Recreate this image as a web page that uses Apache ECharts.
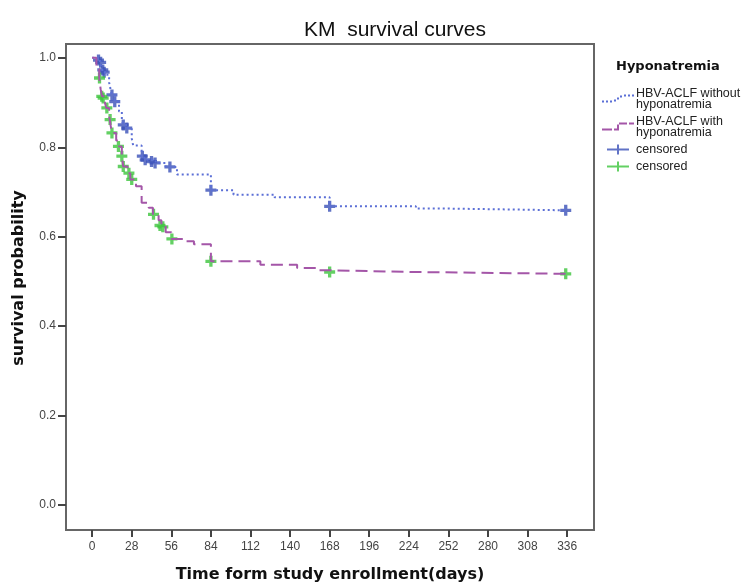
<!DOCTYPE html>
<html>
<head>
<meta charset="utf-8">
<script src="https://cdn.jsdelivr.net/npm/echarts@6/dist/echarts.min.js"></script>
<style>
  html, body { margin: 0; padding: 0; background: #fff; }
  #main { width: 753px; height: 588px; }
</style>
</head>
<body>
<div id="main"></div>
<script>
// step points [day, survival]
var withoutHypo = [
  [0, 1.0], [4, 0.993], [6, 0.985], [7, 0.973], [9, 0.962], [12, 0.945], [13, 0.93],
  [14, 0.917], [16, 0.902], [19, 0.88], [21, 0.862], [22, 0.85], [25, 0.843], [28, 0.82],
  [29, 0.804], [35, 0.78], [37, 0.772], [45, 0.765], [52, 0.756], [60, 0.739], [84, 0.704],
  [100, 0.694], [129, 0.688], [168, 0.668], [229, 0.663], [250, 0.659], [336, 0.659]
];
var withHypo = [
  [0, 1.0], [3, 0.975], [5, 0.955], [6, 0.93], [7, 0.914], [9, 0.9], [10, 0.888],
  [12, 0.87], [13, 0.85], [14, 0.832], [17, 0.815], [19, 0.802], [21, 0.78], [22, 0.757],
  [25, 0.742], [27, 0.728], [31, 0.713], [35, 0.676], [40, 0.665], [43, 0.65], [47, 0.637],
  [49, 0.624], [52, 0.61], [56, 0.595], [65, 0.59], [72, 0.583], [84, 0.545], [119, 0.537],
  [145, 0.53], [159, 0.525], [168, 0.521], [229, 0.517], [336, 0.517]
];
// censored marks
var censoredWithout = [
  [4.5, 0.995], [6, 0.99], [7.5, 0.973], [8.5, 0.968], [14, 0.917], [16, 0.902],
  [22, 0.85], [24.5, 0.843], [35.5, 0.78], [37.5, 0.772], [42, 0.768], [44.5, 0.765],
  [55, 0.756], [84, 0.704], [168, 0.668], [335, 0.659]
];
var censoredWith = [
  [5.2, 0.955], [6.8, 0.914], [7.8, 0.91], [10.4, 0.888], [12.7, 0.862], [14, 0.832],
  [18.6, 0.802], [21, 0.78], [22, 0.757], [26, 0.742], [28, 0.728], [43.4, 0.65],
  [48, 0.625], [50, 0.622], [56.4, 0.595], [84, 0.545], [168, 0.521], [335, 0.517]
];
var xTicks = [0, 28, 56, 84, 112, 140, 168, 196, 224, 252, 280, 308, 336];
var yTicks = [0, 0.2, 0.4, 0.6, 0.8, 1.0];

var plus = 'path://M3.5,0h3v3.5h3.5v3h-3.5v3.5h-3v-3.5h-3.5v-3h3.5z';
// legend icons
var dotStep = 'path://M0,7h2v2h-2z M4,7h2v2h-2z M8,7h2v2h-2z M12,6h2v2h-2z M15,4h2v2h-2z M18,2h2v2h-2z M22,1h2v2h-2z M26,1h2v2h-2z M30,1h2v2h-2z M0,10h0.1v0h-0.1z';
var dashStep = 'path://M0,7h10v2h-10z M12,7h3v2h-3z M15,3h2v6h-2z M17,1h8v2h-8z M27,1h5v2h-5z M0,10h0.1v0h-0.1z';
var plusIcon = 'path://M0,4h22v2h-22z M10,0h2v10h-2z';

var font = 'Liberation Sans, Arial, sans-serif';
var boldFont = 'DejaVu Sans, Verdana, sans-serif';

var chart = echarts.init(document.getElementById('main'));
chart.setOption({
  animation: false,
  backgroundColor: '#fff',
  textStyle: { fontFamily: font },
  title: [{
    text: 'KM  survival curves',
    left: 390, top: 15, textAlign: 'center',
    textStyle: { fontSize: 21, fontWeight: 'normal', color: '#111', fontFamily: font }
  }, {
    text: 'Hyponatremia',
    left: 611, top: 55,
    textStyle: { fontSize: 13, fontWeight: 'bold', color: '#111', fontFamily: boldFont }
  }],
  legend: {
    orient: 'vertical',
    left: 597, top: 82,
    itemWidth: 32, itemHeight: 10, itemGap: 4,
    selectedMode: false,
    textStyle: { fontSize: 12.5, lineHeight: 11, color: '#222', fontFamily: font, padding: [0, 0, 0, -3] },
    data: [
      { name: 'HBV-ACLF without\nhyponatremia', icon: dotStep, itemStyle: { color: '#5b6fd6' } },
      { name: 'HBV-ACLF with\nhyponatremia', icon: dashStep, itemStyle: { color: '#a456a8' } },
      { name: 'censored', icon: plusIcon, itemStyle: { color: '#3a50b8' } },
      { name: 'censored ', icon: plusIcon, itemStyle: { color: '#3cc43c' } }
    ]
  },
  grid: {
    left: 66, right: 159, top: 44, bottom: 57,
    show: true, borderColor: '#666', borderWidth: 2, backgroundColor: 'transparent'
  },
  xAxis: {
    type: 'value', min: -18.5, max: 355,
    name: 'Time form study enrollment(days)', nameLocation: 'middle', nameGap: 37,
    nameTextStyle: { fontSize: 16, fontWeight: 'bold', color: '#111', fontFamily: boldFont },
    axisLine: { show: true, onZero: false, lineStyle: { color: '#666', width: 2 } },
    axisTick: { show: true, customValues: xTicks, length: 7, lineStyle: { color: '#444', width: 2 } },
    axisLabel: { customValues: xTicks, fontSize: 12, color: '#444', margin: 11 },
    splitLine: { show: false }
  },
  yAxis: {
    type: 'value', min: -0.056, max: 1.031,
    name: 'survival probability', nameLocation: 'middle', nameGap: 39, nameRotate: 90,
    nameTextStyle: { fontSize: 16, fontWeight: 'bold', color: '#111', fontFamily: boldFont, padding: [0, 0, 0, 18] },
    axisLine: { show: true, onZero: false, lineStyle: { color: '#666', width: 2 } },
    axisTick: { show: true, customValues: yTicks, length: 8, lineStyle: { color: '#444', width: 2 } },
    axisLabel: {
      customValues: yTicks, fontSize: 12, color: '#444', margin: 10,
      formatter: function (v) { return v.toFixed(1); }
    },
    splitLine: { show: false }
  },
  series: [{
    name: 'HBV-ACLF without\nhyponatremia',
    type: 'line', step: 'end', symbol: 'none',
    data: withoutHypo,
    lineStyle: { color: '#5b6fd6', width: 2, type: [2, 3] },
    itemStyle: { color: '#5b6fd6' }
  }, {
    name: 'HBV-ACLF with\nhyponatremia',
    type: 'line', step: 'end', symbol: 'none',
    data: withHypo,
    lineStyle: { color: '#a456a8', width: 2, type: [12, 6] },
    itemStyle: { color: '#a456a8' }
  }, {
    name: 'censored',
    type: 'scatter', symbol: plus, symbolSize: 11,
    data: censoredWithout,
    itemStyle: { color: '#3a50b8' }
  }, {
    name: 'censored ',
    type: 'scatter', symbol: plus, symbolSize: 11,
    data: censoredWith,
    itemStyle: { color: '#3cc43c' }
  }]
});
</script>
</body>
</html>
